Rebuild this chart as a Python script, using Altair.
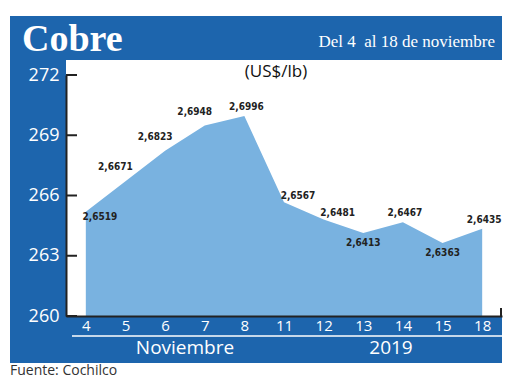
import altair as alt
import pandas as pd

days = ["4", "5", "6", "7", "8", "11", "12", "13", "14", "15", "18"]
prices = [2.6519, 2.6671, 2.6823, 2.6948, 2.6996, 2.6567, 2.6481, 2.6413, 2.6467, 2.6363, 2.6435]
y_ticks = [260, 263, 266, 269, 272]

df = pd.DataFrame({
    "day": days,
    "cents": [p * 100 for p in prices],
    "label": [f"{p:.4f}".replace(".", ",") for p in prices],
})
ticks_df = pd.DataFrame({"v": y_ticks})
one = pd.DataFrame({"k": [0]})

BLUE = "#1d65ad"
AREA = "#79b2e0"
YSCALE = alt.Scale(domain=[260, 272], nice=False, zero=False)

xenc = alt.X("day:O", sort=days, scale=alt.Scale(type="point", padding=0.5),
             axis=alt.Axis(title=None, labelAngle=0, labelColor="white", labelFontSize=15,
                           labelFont="Open Sans", labelPadding=2, ticks=False, zindex=2,
                           domain=True, domainColor="#222222", domainWidth=2))
yenc = alt.Y("cents:Q", scale=YSCALE,
             axis=alt.Axis(title=None, values=y_ticks, labelColor="white", labelFontSize=18,
                           labelFont="Open Sans", labelPadding=7, ticks=False, grid=False,
                           zindex=2, domainColor="#222222", domainWidth=2))


def box(x, x2, y, y2, color):
    return alt.Chart(one).mark_rect(color=color).encode(
        x=alt.value(x), x2=alt.value(x2), y=alt.value(y), y2=alt.value(y2))


def txt(text, x, y, size, color="white", font="Open Sans", align="center", weight="normal"):
    return alt.Chart(one).mark_text(fontSize=size, color=color, font=font, align=align,
                                    baseline="middle", fontWeight=weight).encode(
        x=alt.value(x), y=alt.value(y), text=alt.value(text))


header = box(-56, 436, -59, -15, BLUE)
left = box(-56, 0, -15, 288, BLUE)
bottom = box(0, 436, 241, 288, BLUE)
sep = alt.Chart(one).mark_rule(color="white", strokeWidth=1.5).encode(
    x=alt.value(6), x2=alt.value(436), y=alt.value(261))

area = alt.Chart(df).mark_area(color=AREA, opacity=1).encode(
    x=xenc, y=yenc, y2=alt.datum(260))

yt = alt.Chart(ticks_df).mark_rule(color="#222222", strokeWidth=2).encode(
    y=alt.Y("v:Q", scale=YSCALE), x=alt.value(0), x2=alt.value(11))
endtick = alt.Chart(one).mark_rule(color="#222222", strokeWidth=2).encode(
    x=alt.value(435), y=alt.value(233), y2=alt.value(241))


def labels(group, dx, dy):
    return alt.Chart(df).transform_filter(
        alt.FieldOneOfPredicate(field="day", oneOf=group)
    ).mark_text(fontSize=10, font="DejaVu Sans Condensed, Roboto Condensed, Roboto",
                fontWeight="bold", color="#222222", dx=dx, dy=dy).encode(
        x=alt.X("day:O", sort=days), y=alt.Y("cents:Q"), text="label:N")


lab_upleft = labels(["5", "6", "7"], -10, -14)
lab_up = labels(["8", "14", "18"], 2, -9)
lab_right = labels(["11", "12"], 14, -6)
lab_first = labels(["4"], 14, 5)
lab_down = labels(["13", "15"], 0, 10)

title = txt("Cobre", -44, -35, 38, font="Liberation Serif", align="left", weight="bold")
subtitle = txt("Del 4\u00a0 al 18 de noviembre", 429, -33, 17, font="Liberation Serif", align="right")
unit = txt("(US$/lb)", 210, -3, 17, color="#111111")
month = txt("Noviembre", 119, 273, 19)
year = txt("2019", 325, 273, 19)
source = txt("Fuente: Cochilco", -56, 296, 14, color="#333333", align="left")

chart = alt.layer(
    header, left, bottom, sep, area, yt, endtick,
    lab_upleft, lab_up, lab_right, lab_first, lab_down,
    title, subtitle, unit, month, year, source,
).properties(
    width=436, height=241,
    autosize=alt.AutoSizeParams(type="none"),
    padding={"left": 58, "top": 67, "right": 10, "bottom": 66},
    background="white",
).configure_view(stroke=None)

chart.save("out.html", embed_options={"renderer": "svg", "actions": False})
